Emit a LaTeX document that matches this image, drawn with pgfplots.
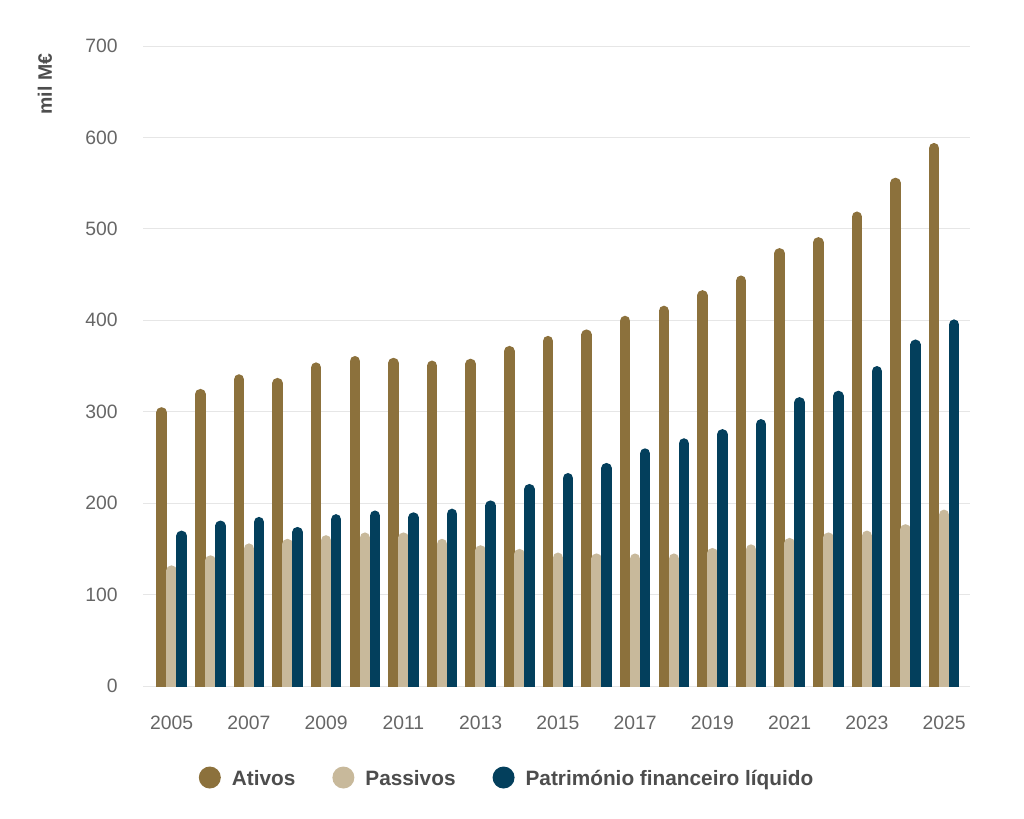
\documentclass[border=0pt]{standalone}
\usepackage{pgfplots}
\pgfplotsset{compat=1.18}
\usepackage{fontspec}
\setmainfont{Liberation Sans}
\definecolor{ativos}{HTML}{8C713C}
\definecolor{passivos}{HTML}{C8B99B}
\definecolor{pfl}{HTML}{033F5C}
\definecolor{gridc}{HTML}{E6E6E6}
\definecolor{tickc}{HTML}{666666}
\definecolor{labc}{HTML}{4D4D4D}
\newcommand{\LE}[1]{\raisebox{0pt}[12.8pt][0pt]{#1}}
\begin{document}
\begin{tikzpicture}
\begin{axis}[
  at={(0,0)}, anchor=south west,
  scale only axis, width=620.25pt, height=480pt,
  xmin=-0.744, xmax=20.67, ymin=0, ymax=700,
  ytick={0,100,...,700},
  xtick={0,2,...,20},
  xticklabels={2005,2007,2009,2011,2013,2015,2017,2019,2021,2023,2025},
  scaled ticks=false,
  /pgf/number format/assume math mode=true,
  axis line style={draw=none},
  major tick length=0pt,
  tick style={draw=none},
  ymajorgrids,
  grid style={gridc, line width=0.75pt},
  yticklabel style={font=\fontsize{14.5}{16}\selectfont, text=tickc, inner sep=0pt, anchor=east, xshift=-18.75pt},
  xticklabel style={font=\fontsize{14.5}{16}\selectfont, text=tickc, inner sep=0pt, anchor=north, yshift=-22.5pt},
  ylabel={mil M€},
  ylabel style={at={(axis description cs:-0.1185,0.9406)}, anchor=center, font=\bfseries\fontsize{14.6}{17}\selectfont, text=labc, inner sep=0pt},
  legend columns=3,
  legend image code/.code={\fill[#1] (0pt,0pt) circle (8.25pt);},
  legend style={at={(axis description cs:0.0675,-0.143)}, anchor=west, draw=none, fill=none,
    inner sep=0pt, outer sep=0pt, font=\bfseries\fontsize{15.6}{18}\selectfont, text=labc,
    nodes={inner sep=0pt},
    /tikz/every odd column/.append style={column sep=8.25pt},
    /tikz/every even column/.append style={column sep=27.75pt}},
]
\addplot[ycomb, draw=ativos, line width=7.9pt, line cap=round, mark=none, xshift=-7.5pt, yshift=-3.95pt, forget plot] coordinates {
(0,305) (1,325) (2,341) (3,337) (4,354) (5,361) (6,359) (7,356) (8,358) (9,372) (10,383)
(11,390) (12,405) (13,416) (14,433) (15,449) (16,479) (17,491) (18,519) (19,556) (20,594)};
\addplot[ycomb, draw=passivos, line width=7.9pt, line cap=round, mark=none, yshift=-3.95pt, forget plot] coordinates {
(0,132) (1,143) (2,156) (3,161) (4,165) (5,168) (6,168) (7,161) (8,154) (9,150) (10,146)
(11,145) (12,145) (13,145) (14,151) (15,155) (16,162) (17,168) (18,170) (19,177) (20,193)};
\addplot[ycomb, draw=pfl, line width=7.9pt, line cap=round, mark=none, xshift=7.5pt, yshift=-3.95pt, forget plot] coordinates {
(0,170) (1,181) (2,185) (3,174) (4,188) (5,192) (6,190) (7,194) (8,203) (9,221) (10,233)
(11,244) (12,260) (13,271) (14,281) (15,292) (16,316) (17,323) (18,350) (19,379) (20,401)};
\addlegendimage{fill=ativos, draw=none}
\addlegendentry{\LE{Ativos}}
\addlegendimage{fill=passivos, draw=none}
\addlegendentry{\LE{Passivos}}
\addlegendimage{fill=pfl, draw=none}
\addlegendentry{\LE{Património financeiro líquido}}
\end{axis}
\pgfresetboundingbox
\path[use as bounding box] (-107.25pt,-99pt) rectangle (660.75pt,514.5pt);
\end{tikzpicture}
\end{document}
